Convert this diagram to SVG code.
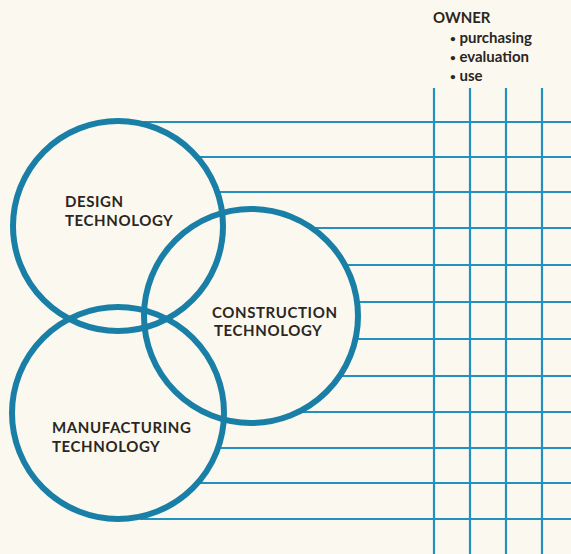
<svg xmlns="http://www.w3.org/2000/svg" width="571" height="554" viewBox="0 0 571 554">
<style>
.bg{fill:#fbf9ef}
.ring{fill:none;stroke:#1a7fa7;stroke-width:6}
.ln{stroke:#2390bf;stroke-width:2.2;fill:none}
.lbl{font-family:Lato,"Liberation Sans",sans-serif;font-weight:bold;font-size:15px;letter-spacing:0.6px;fill:#2b2622}
.own{font-family:Lato,"Liberation Sans",sans-serif;font-weight:bold;font-size:15px;fill:#2b2622}
.bul{font-size:10px}
</style>
<rect class="bg" x="0" y="0" width="571" height="554"/>
<g id="connectors">
<line class="ln" x1="140" y1="122" x2="571" y2="122"/>
<line class="ln" x1="194" y1="157" x2="571" y2="157"/>
<line class="ln" x1="215" y1="192" x2="571" y2="192"/>
<line class="ln" x1="311" y1="228" x2="571" y2="228"/>
<line class="ln" x1="344" y1="265" x2="571" y2="265"/>
<line class="ln" x1="355" y1="302" x2="571" y2="302"/>
<line class="ln" x1="354" y1="339" x2="571" y2="339"/>
<line class="ln" x1="340" y1="376" x2="571" y2="376"/>
<line class="ln" x1="298" y1="412" x2="571" y2="412"/>
<line class="ln" x1="216" y1="448" x2="571" y2="448"/>
<line class="ln" x1="196" y1="483" x2="571" y2="483"/>
<line class="ln" x1="140" y1="519" x2="571" y2="519"/>
<line class="ln" x1="434" y1="88" x2="434" y2="554"/>
<line class="ln" x1="470" y1="88" x2="470" y2="554"/>
<line class="ln" x1="506" y1="88" x2="506" y2="554"/>
<line class="ln" x1="542" y1="88" x2="542" y2="554"/>
</g>
<g id="design">
<circle class="ring" cx="118" cy="226" r="105"/>
<text class="lbl" x="65" y="207">DESIGN</text>
<text class="lbl" x="65" y="226">TECHNOLOGY</text>
</g>
<g id="construction">
<circle class="ring" cx="251" cy="316" r="107"/>
<text class="lbl" x="212" y="318">CONSTRUCTION</text>
<text class="lbl" x="214" y="336">TECHNOLOGY</text>
</g>
<g id="manufacturing">
<circle class="ring" cx="118" cy="413" r="106"/>
<text class="lbl" x="52" y="433">MANUFACTURING</text>
<text class="lbl" x="52" y="452">TECHNOLOGY</text>
</g>
<g id="owner">
<text class="own" x="433" y="23">OWNER</text>
<text class="own" x="450" y="43"><tspan class="bul" dy="-1.5">•</tspan><tspan dy="1.5"> purchasing</tspan></text>
<text class="own" x="450" y="62"><tspan class="bul" dy="-1.5">•</tspan><tspan dy="1.5"> evaluation</tspan></text>
<text class="own" x="450" y="81"><tspan class="bul" dy="-1.5">•</tspan><tspan dy="1.5"> use</tspan></text>
</g>
</svg>
